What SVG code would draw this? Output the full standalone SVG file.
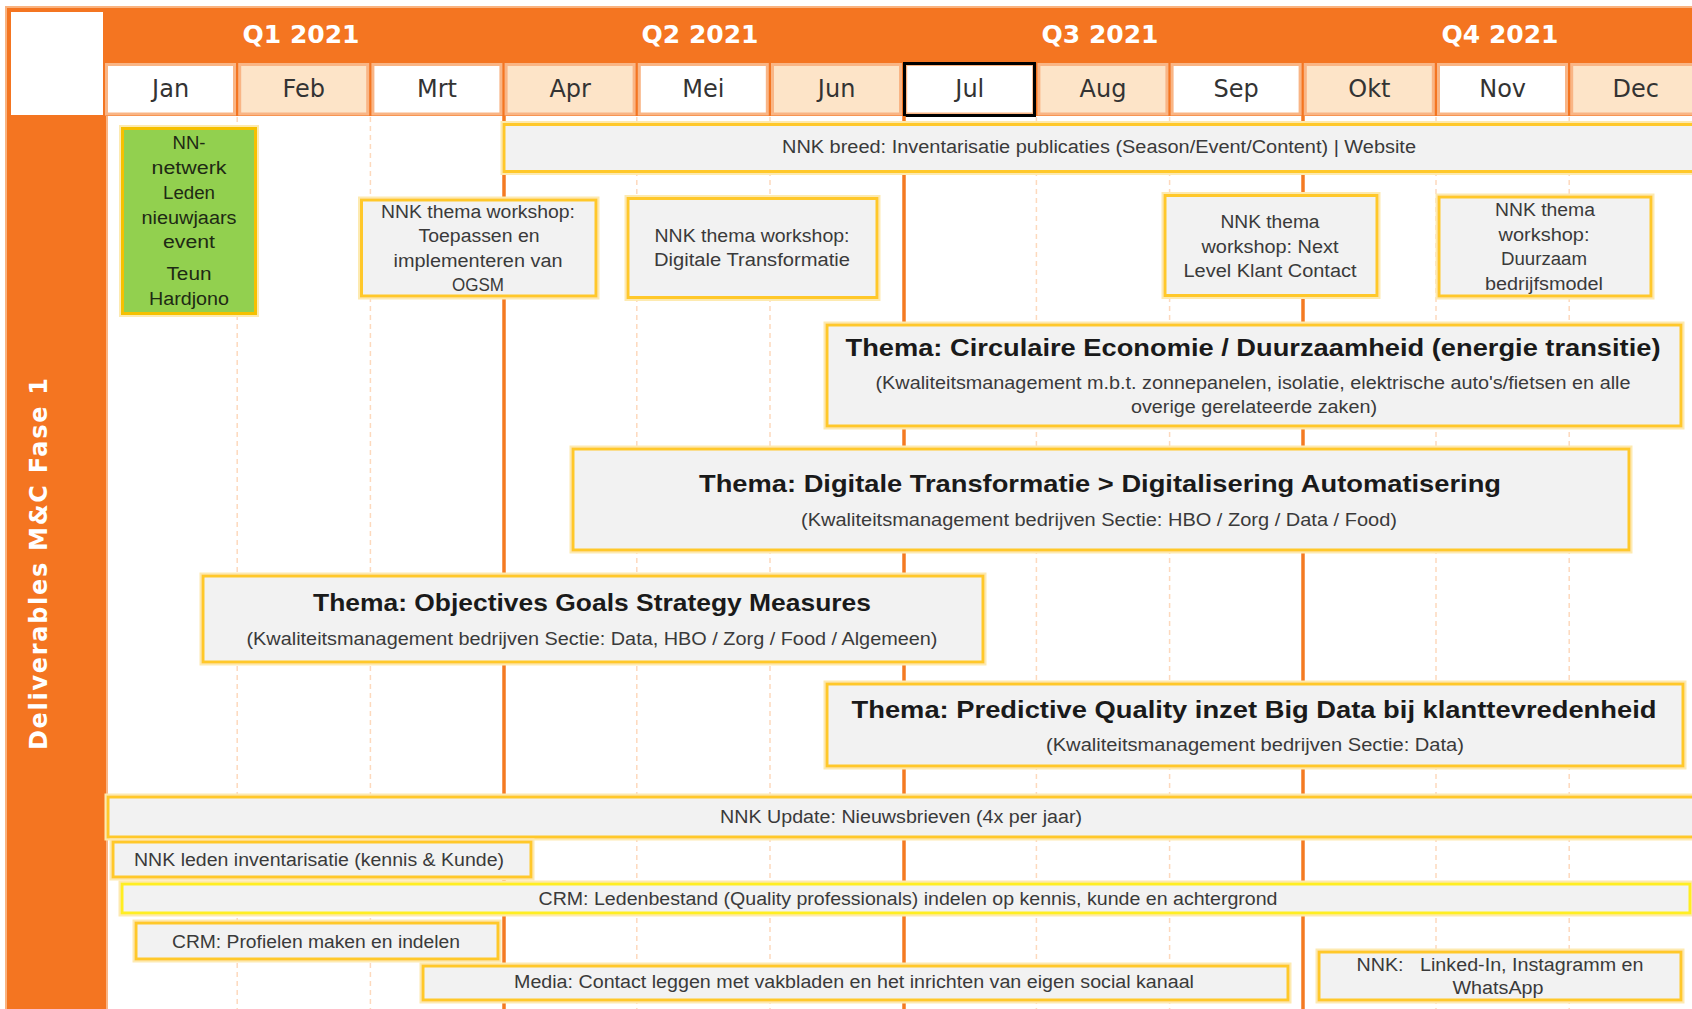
<svg xmlns="http://www.w3.org/2000/svg" width="1692" height="1009" viewBox="0 0 1692 1009">
<defs>
<filter id="halo" x="-5%" y="-20%" width="110%" height="140%">
<feMorphology in="SourceAlpha" operator="dilate" radius="2" result="d"/>
<feFlood flood-color="#fdeab0" result="c"/>
<feComposite in="c" in2="d" operator="in" result="h"/>
<feMerge><feMergeNode in="h"/><feMergeNode in="SourceGraphic"/></feMerge>
</filter>
</defs>
<style>
.frame{fill:#f47521;stroke:#f9b380;stroke-width:2}
.mcell{stroke:#f9b585;stroke-width:3}
.mw{fill:#ffffff}
.mp{fill:#fde4c8}
.qt{font-family:"DejaVu Sans",sans-serif;font-weight:bold;font-size:25px;fill:#ffffff;text-anchor:middle}
.mt{font-family:"DejaVu Sans",sans-serif;font-size:24px;fill:#333333;text-anchor:middle}
.vt{font-family:"DejaVu Sans",sans-serif;font-weight:bold;font-size:24px;fill:#ffffff;text-anchor:middle}
.dash{stroke:#fdd9bd;stroke-width:1.5;stroke-dasharray:5 4;fill:none}
.qline{stroke:#f47a22;stroke-width:3.5;fill:none}
.box{fill:#f2f2f2;stroke:#ffc82c;stroke-width:3;filter:url(#halo)}
.boxy{fill:#f2f2f2;stroke:#ffee22;stroke-width:3;filter:url(#halo)}
.green{fill:#92d050;stroke:#f5c000;stroke-width:3;filter:url(#halo)}
.t{font-family:"Liberation Sans",Arial,sans-serif;font-size:18px;fill:#3a3a3a;text-anchor:middle}
.tg{font-family:"Liberation Sans",Arial,sans-serif;font-size:18px;fill:#1e2a14;text-anchor:middle}
.h{font-family:"Liberation Sans",Arial,sans-serif;font-weight:bold;font-size:24px;fill:#1a1a1a;text-anchor:middle}
.s{font-family:"Liberation Sans",Arial,sans-serif;font-size:17.5px;fill:#3a3a3a;text-anchor:middle}
</style>
<rect x="0" y="0" width="1692" height="1009" fill="#ffffff"/>
<g id="header">
<rect class="frame" x="6" y="7" width="1700" height="1010"/>
<rect x="107" y="116" width="1600" height="900" fill="#ffffff"/>
<line x1="107" y1="116" x2="107" y2="1009" stroke="#f9b585" stroke-width="2"/>
<rect x="11" y="12" width="92" height="103" fill="#ffffff"/>
<text class="qt" x="301" y="43">Q1 2021</text>
<text class="qt" x="700" y="43">Q2 2021</text>
<text class="qt" x="1100" y="43">Q3 2021</text>
<text class="qt" x="1500" y="43">Q4 2021</text>
<rect class="mcell mw" x="106.5" y="64.5" width="128" height="49.5"/>
<rect class="mcell mp" x="239.7" y="64.5" width="128" height="49.5"/>
<rect class="mcell mw" x="372.9" y="64.5" width="128" height="49.5"/>
<rect class="mcell mp" x="506.1" y="64.5" width="128" height="49.5"/>
<rect class="mcell mw" x="639.3" y="64.5" width="128" height="49.5"/>
<rect class="mcell mp" x="772.5" y="64.5" width="128" height="49.5"/>
<rect class="mcell mw" x="905.7" y="64.5" width="128" height="49.5"/>
<rect class="mcell mp" x="1038.9" y="64.5" width="128" height="49.5"/>
<rect class="mcell mw" x="1172.1" y="64.5" width="128" height="49.5"/>
<rect class="mcell mp" x="1305.3" y="64.5" width="128" height="49.5"/>
<rect class="mcell mw" x="1438.5" y="64.5" width="128" height="49.5"/>
<rect class="mcell mp" x="1571.7" y="64.5" width="128" height="49.5"/>
<rect x="904.5" y="63.5" width="130" height="52" fill="none" stroke="#000000" stroke-width="3"/>
<text class="mt" x="170.6" y="97">Jan</text>
<text class="mt" x="303.8" y="97">Feb</text>
<text class="mt" x="437" y="97">Mrt</text>
<text class="mt" x="570.2" y="97">Apr</text>
<text class="mt" x="703.4" y="97">Mei</text>
<text class="mt" x="836.6" y="97">Jun</text>
<text class="mt" x="969.8" y="97">Jul</text>
<text class="mt" x="1103" y="97">Aug</text>
<text class="mt" x="1236.2" y="97">Sep</text>
<text class="mt" x="1369.4" y="97">Okt</text>
<text class="mt" x="1502.6" y="97">Nov</text>
<text class="mt" x="1635.8" y="97">Dec</text>
<text class="vt" transform="translate(47,564) rotate(-90)" textLength="372" lengthAdjust="spacing">Deliverables M&amp;C Fase 1</text>
</g>
<g id="grid">
<line class="dash" x1="237.2" y1="117" x2="237.2" y2="1009"/>
<line class="dash" x1="370.4" y1="117" x2="370.4" y2="1009"/>
<line class="dash" x1="636.8" y1="117" x2="636.8" y2="1009"/>
<line class="dash" x1="770" y1="117" x2="770" y2="1009"/>
<line class="dash" x1="1036.4" y1="117" x2="1036.4" y2="1009"/>
<line class="dash" x1="1169.6" y1="117" x2="1169.6" y2="1009"/>
<line class="dash" x1="1436" y1="117" x2="1436" y2="1009"/>
<line class="dash" x1="1569.2" y1="117" x2="1569.2" y2="1009"/>
<line class="qline" x1="504" y1="116" x2="504" y2="1009"/>
<line class="qline" x1="904" y1="116" x2="904" y2="1009"/>
<line class="qline" x1="1303" y1="116" x2="1303" y2="1009"/>
</g>
<g id="connectors"></g>
<g id="n-nieuwjaars">
<rect class="green" x="122.5" y="128.5" width="133" height="185"/>
<text class="tg" x="189" y="149" textLength="33" lengthAdjust="spacingAndGlyphs">NN-</text>
<text class="tg" x="189" y="174" textLength="75" lengthAdjust="spacingAndGlyphs">netwerk</text>
<text class="tg" x="189" y="199" textLength="52" lengthAdjust="spacingAndGlyphs">Leden</text>
<text class="tg" x="189" y="224" textLength="95" lengthAdjust="spacingAndGlyphs">nieuwjaars</text>
<text class="tg" x="189" y="248" textLength="52" lengthAdjust="spacingAndGlyphs">event</text>
<text class="tg" x="189" y="280" textLength="45" lengthAdjust="spacingAndGlyphs">Teun</text>
<text class="tg" x="189" y="305" textLength="80" lengthAdjust="spacingAndGlyphs">Hardjono</text>
</g>
<g id="n-breed">
<rect class="box" x="504" y="124.5" width="1200" height="47"/>
<text class="t" x="1099" y="153" textLength="634" lengthAdjust="spacingAndGlyphs">NNK breed: Inventarisatie publicaties (Season/Event/Content) | Website</text>
</g>
<g id="n-ws-ogsm">
<rect class="box" x="361.5" y="200" width="234.5" height="96"/>
<text class="t" x="478" y="218" textLength="194" lengthAdjust="spacingAndGlyphs">NNK thema workshop:</text>
<text class="t" x="479" y="242" textLength="121" lengthAdjust="spacingAndGlyphs">Toepassen en</text>
<text class="t" x="478" y="267" textLength="169" lengthAdjust="spacingAndGlyphs">implementeren van</text>
<text class="t" x="478" y="291" textLength="52" lengthAdjust="spacingAndGlyphs">OGSM</text>
</g>
<g id="n-ws-digitaal">
<rect class="box" x="628" y="198.5" width="249" height="99"/>
<text class="t" x="752" y="242" textLength="195" lengthAdjust="spacingAndGlyphs">NNK thema workshop:</text>
<text class="t" x="752" y="266" textLength="196" lengthAdjust="spacingAndGlyphs">Digitale Transformatie</text>
</g>
<g id="n-ws-klant">
<rect class="box" x="1165" y="195.5" width="212" height="100"/>
<text class="t" x="1270" y="228" textLength="99" lengthAdjust="spacingAndGlyphs">NNK thema</text>
<text class="t" x="1270" y="253" textLength="137" lengthAdjust="spacingAndGlyphs">workshop: Next</text>
<text class="t" x="1270" y="277" textLength="173" lengthAdjust="spacingAndGlyphs">Level Klant Contact</text>
</g>
<g id="n-ws-duurzaam">
<rect class="box" x="1439" y="197" width="212" height="99"/>
<text class="t" x="1545" y="216" textLength="100" lengthAdjust="spacingAndGlyphs">NNK thema</text>
<text class="t" x="1544" y="241" textLength="91" lengthAdjust="spacingAndGlyphs">workshop:</text>
<text class="t" x="1544" y="265" textLength="86" lengthAdjust="spacingAndGlyphs">Duurzaam</text>
<text class="t" x="1544" y="290" textLength="118" lengthAdjust="spacingAndGlyphs">bedrijfsmodel</text>
</g>
<g id="n-circulair">
<rect class="box" x="827" y="325" width="854" height="101"/>
<text class="h" x="1253" y="356" textLength="815" lengthAdjust="spacingAndGlyphs">Thema: Circulaire Economie / Duurzaamheid (energie transitie)</text>
<text class="s" x="1253" y="389" textLength="755" lengthAdjust="spacingAndGlyphs">(Kwaliteitsmanagement m.b.t. zonnepanelen, isolatie, elektrische auto's/fietsen en alle</text>
<text class="s" x="1254" y="413" textLength="246" lengthAdjust="spacingAndGlyphs">overige gerelateerde zaken)</text>
</g>
<g id="n-digitaal">
<rect class="box" x="573" y="449" width="1056" height="101"/>
<text class="h" x="1100" y="492" textLength="802" lengthAdjust="spacingAndGlyphs">Thema: Digitale Transformatie &gt; Digitalisering Automatisering</text>
<text class="s" x="1099" y="526" textLength="596" lengthAdjust="spacingAndGlyphs">(Kwaliteitsmanagement bedrijven Sectie: HBO / Zorg / Data / Food)</text>
</g>
<g id="n-ogsm">
<rect class="box" x="203" y="576" width="780" height="86"/>
<text class="h" x="592" y="611" textLength="558" lengthAdjust="spacingAndGlyphs">Thema: Objectives Goals Strategy Measures</text>
<text class="s" x="592" y="645" textLength="691" lengthAdjust="spacingAndGlyphs">(Kwaliteitsmanagement bedrijven Sectie: Data, HBO / Zorg / Food / Algemeen)</text>
</g>
<g id="n-predictive">
<rect class="box" x="827" y="684" width="856" height="82"/>
<text class="h" x="1254" y="718" textLength="805" lengthAdjust="spacingAndGlyphs">Thema: Predictive Quality inzet Big Data bij  klanttevredenheid</text>
<text class="s" x="1255" y="751" textLength="418" lengthAdjust="spacingAndGlyphs">(Kwaliteitsmanagement bedrijven Sectie: Data)</text>
</g>
<g id="n-update">
<rect class="box" x="108" y="797" width="1600" height="40"/>
<text class="t" x="901" y="823" textLength="362" lengthAdjust="spacingAndGlyphs">NNK Update: Nieuwsbrieven (4x per jaar)</text>
</g>
<g id="n-leden">
<rect class="box" x="113" y="842" width="418" height="35"/>
<text class="t" x="319" y="866" textLength="370" lengthAdjust="spacingAndGlyphs">NNK leden inventarisatie (kennis &amp; Kunde)</text>
</g>
<g id="n-crm-leden">
<rect class="boxy" x="122" y="884" width="1568" height="29"/>
<text class="t" x="908" y="905" textLength="739" lengthAdjust="spacingAndGlyphs">CRM: Ledenbestand (Quality professionals) indelen op kennis, kunde en achtergrond</text>
</g>
<g id="n-crm-profielen">
<rect class="box" x="136" y="923" width="362" height="36"/>
<text class="t" x="316" y="948" textLength="288" lengthAdjust="spacingAndGlyphs">CRM: Profielen maken en indelen</text>
</g>
<g id="n-media">
<rect class="box" x="423" y="966" width="865" height="34"/>
<text class="t" x="854" y="988" textLength="680" lengthAdjust="spacingAndGlyphs">Media: Contact leggen met vakbladen en het inrichten van eigen social kanaal</text>
</g>
<g id="n-social">
<rect class="box" x="1319" y="952" width="362" height="48"/>
<text class="t" x="1500" y="971" textLength="287" lengthAdjust="spacingAndGlyphs" xml:space="preserve">NNK:   Linked-In, Instagramm en</text>
<text class="t" x="1498" y="994" textLength="91" lengthAdjust="spacingAndGlyphs">WhatsApp</text>
</g>
</svg>
